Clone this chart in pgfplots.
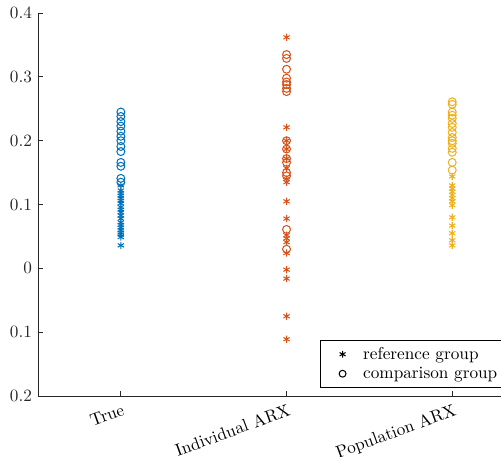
\documentclass[border=0pt]{standalone}
\usepackage{pgfplots}
\pgfplotsset{compat=1.18}
\definecolor{mblue}{rgb}{0,0.447,0.741}
\definecolor{morange}{rgb}{0.85,0.325,0.098}
\definecolor{myellow}{rgb}{0.929,0.694,0.125}
\definecolor{axgray}{rgb}{0.15,0.15,0.15}
\begin{document}
\begin{tikzpicture}
\begin{axis}[
  scale only axis,
  width=288.7pt, height=222.4pt,
  xmin=0.5, xmax=3.5, ymin=-0.2, ymax=0.4,
  axis x line*=bottom, axis y line*=left,
  axis line style={axgray, line width=0.5pt},
  every tick/.style={axgray, line width=0.5pt},
  tick align=inside,
  major tick length=3pt,
  xtick={1,2,3},
  xticklabels={True,Individual ARX,Population ARX},
  xticklabel style={rotate=20, anchor=north east, font=\normalsize, inner sep=1pt, yshift=-3pt},
  ytick={-0.2,-0.1,0,0.1,0.2,0.3,0.4},
  yticklabels={0.2,0.1,0,0.1,0.2,0.3,0.4},
  yticklabel style={font=\normalsize, text=axgray},
  legend style={at={(rel axis cs:0.567,0.021)}, anchor=south west, draw=black, line width=0.5pt, font=\normalsize, row sep=-1pt, inner xsep=3pt},
  legend cell align=left,
  legend image code/.code={\node[minimum width=0.7cm, minimum height=0.2cm, inner sep=0pt, anchor=west] at (0cm,0cm) {}; \draw[#1, only marks] plot coordinates {(0.36cm,0cm)};},
  every axis plot/.append style={line width=0.6pt},
  clip=false,
]
\addlegendimage{only marks, mark=asterisk, mark size=2pt, black}
\addlegendentry{reference group}
\addlegendimage{only marks, mark=o, mark size=2pt, black}
\addlegendentry{comparison group}
% True
\addplot[only marks, mark=asterisk, mark size=2.1pt, mblue, forget plot] coordinates {
(1,0.130)(1,0.122)(1,0.118)(1,0.114)(1,0.110)(1,0.106)(1,0.102)(1,0.096)(1,0.092)(1,0.088)(1,0.083)(1,0.078)(1,0.072)(1,0.068)(1,0.064)(1,0.060)(1,0.056)(1,0.053)(1,0.049)(1,0.036)};
\addplot[only marks, mark=o, mark size=2.3pt, mblue, forget plot] coordinates {
(1,0.245)(1,0.238)(1,0.230)(1,0.223)(1,0.215)(1,0.207)(1,0.200)(1,0.191)(1,0.183)(1,0.166)(1,0.160)(1,0.141)(1,0.135)};
% Individual ARX
\addplot[only marks, mark=asterisk, mark size=2.1pt, morange, forget plot] coordinates {
(2,0.362)(2,0.221)(2,0.200)(2,0.187)(2,0.172)(2,0.157)(2,0.140)(2,0.135)(2,0.105)(2,0.078)(2,0.052)(2,0.047)(2,0.041)(2,0.024)(2,-0.002)(2,-0.016)(2,-0.075)(2,-0.111)};
\addplot[only marks, mark=o, mark size=2.3pt, morange, forget plot] coordinates {
(2,0.335)(2,0.329)(2,0.312)(2,0.298)(2,0.292)(2,0.288)(2,0.282)(2,0.277)(2,0.200)(2,0.187)(2,0.172)(2,0.166)(2,0.150)(2,0.145)(2,0.061)(2,0.030)};
% Population ARX
\addplot[only marks, mark=asterisk, mark size=2.1pt, myellow, forget plot] coordinates {
(3,0.144)(3,0.130)(3,0.125)(3,0.120)(3,0.115)(3,0.110)(3,0.105)(3,0.099)(3,0.080)(3,0.067)(3,0.055)(3,0.044)(3,0.036)};
\addplot[only marks, mark=o, mark size=2.3pt, myellow, forget plot] coordinates {
(3,0.261)(3,0.257)(3,0.245)(3,0.240)(3,0.235)(3,0.227)(3,0.221)(3,0.213)(3,0.205)(3,0.200)(3,0.196)(3,0.188)(3,0.182)(3,0.166)(3,0.154)};
\end{axis}
\pgfresetboundingbox
\useasboundingbox (-22.07pt,-35.4pt) rectangle (268.9pt,230pt);
\end{tikzpicture}
\end{document}
